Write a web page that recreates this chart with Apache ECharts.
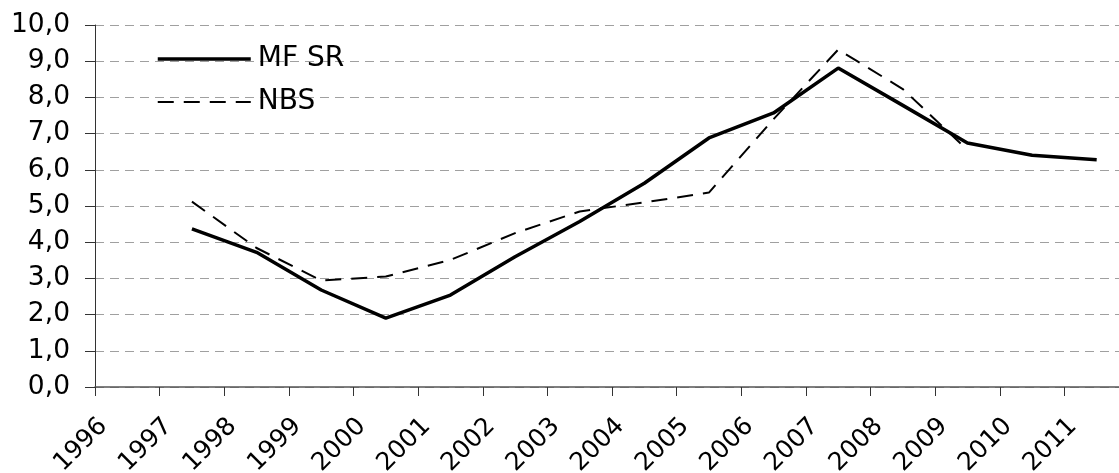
<!DOCTYPE html>
<html>
<head>
<meta charset="utf-8">
<script src="https://cdn.jsdelivr.net/npm/echarts@6/dist/echarts.min.js"></script>
<style>html,body{margin:0;padding:0;background:#fff}#c{width:1119px;height:473px}</style>
</head>
<body>
<div id="c"></div>
<script>
const years = ['1996','1997','1998','1999','2000','2001','2002','2003','2004','2005','2006','2007','2008','2009','2010','2011'];
const tickLabels = ['1996','1997','1998','1999','2000','2001','2002','2003','2004','2005','2006','2007','2008','2009','2010','2011',''];
const mfsr = [null, 4.37, 3.72, 2.68, 1.90, 2.54, 3.60, 4.57, 5.63, 6.88, 7.57, 8.81, 7.78, 6.74, 6.40, 6.28];
const nbs  = [null, 5.12, 3.84, 2.94, 3.05, 3.51, 4.25, 4.85, 5.10, 5.37, 7.40, 9.32, 8.23, 6.55, null, null];

const FONT = 'DejaVu Sans';
const chart = echarts.init(document.getElementById('c'), null, {renderer: 'canvas'});
chart.setOption({
  animation: false,
  backgroundColor: '#fff',
  grid: {left: 95, right: -10, top: 25, bottom: 86, containLabel: false, outerBoundsMode: 'none'},
  legend: {
    orient: 'vertical', left: 151, top: 40,
    itemWidth: 93, itemHeight: 20, itemGap: 15,
    itemStyle: {opacity: 0},
    textStyle: {fontFamily: FONT, fontSize: 28, color: '#000', padding: [0,0,0,2]},
    data: [
      {name: 'MF SR', itemStyle: {opacity: 0}, lineStyle: {width: 3.5, color: '#000', type: 'solid'}},
      {name: 'NBS', itemStyle: {opacity: 0}, lineStyle: {width: 2, color: '#000', type: [16, 10]}}
    ]
  },
  xAxis: [
    {type: 'category', data: years, boundaryGap: true, show: false},
    {type: 'category', data: tickLabels, boundaryGap: false, position: 'bottom',
     axisLine: {show: true, lineStyle: {color: '#555', width: 1.5}},
     axisTick: {show: true, length: 9, interval: 0, lineStyle: {color: '#333', width: 1}},
     axisLabel: {interval: 0, rotate: 45, margin: 44, fontFamily: FONT, fontSize: 25, color: '#000',
       padding: [0, -12, 0, 0]},
     splitLine: {show: false}}
  ],
  yAxis: {
    type: 'value', min: 0, max: 10, interval: 1,
    axisLine: {show: true, lineStyle: {color: '#333', width: 1}},
    axisTick: {show: true, length: 10, lineStyle: {color: '#333'}},
    axisLabel: {margin: 25, fontFamily: FONT, fontSize: 26.5, color: '#000',
      formatter: v => v.toFixed(1).replace('.', ',')},
    splitLine: {show: true, lineStyle: {color: '#a0a0a0', width: 1, type: [9, 6]}}
  },
  series: [
    {name: 'MF SR', type: 'line', xAxisIndex: 0, data: mfsr, symbol: 'none',
     lineStyle: {color: '#000', width: 3.5}, itemStyle: {color: '#000'}},
    {name: 'NBS', type: 'line', xAxisIndex: 0, data: nbs, symbol: 'none',
     lineStyle: {color: '#000', width: 2, type: [16, 10]}, itemStyle: {color: '#000'}}
  ]
});
</script>
</body>
</html>
